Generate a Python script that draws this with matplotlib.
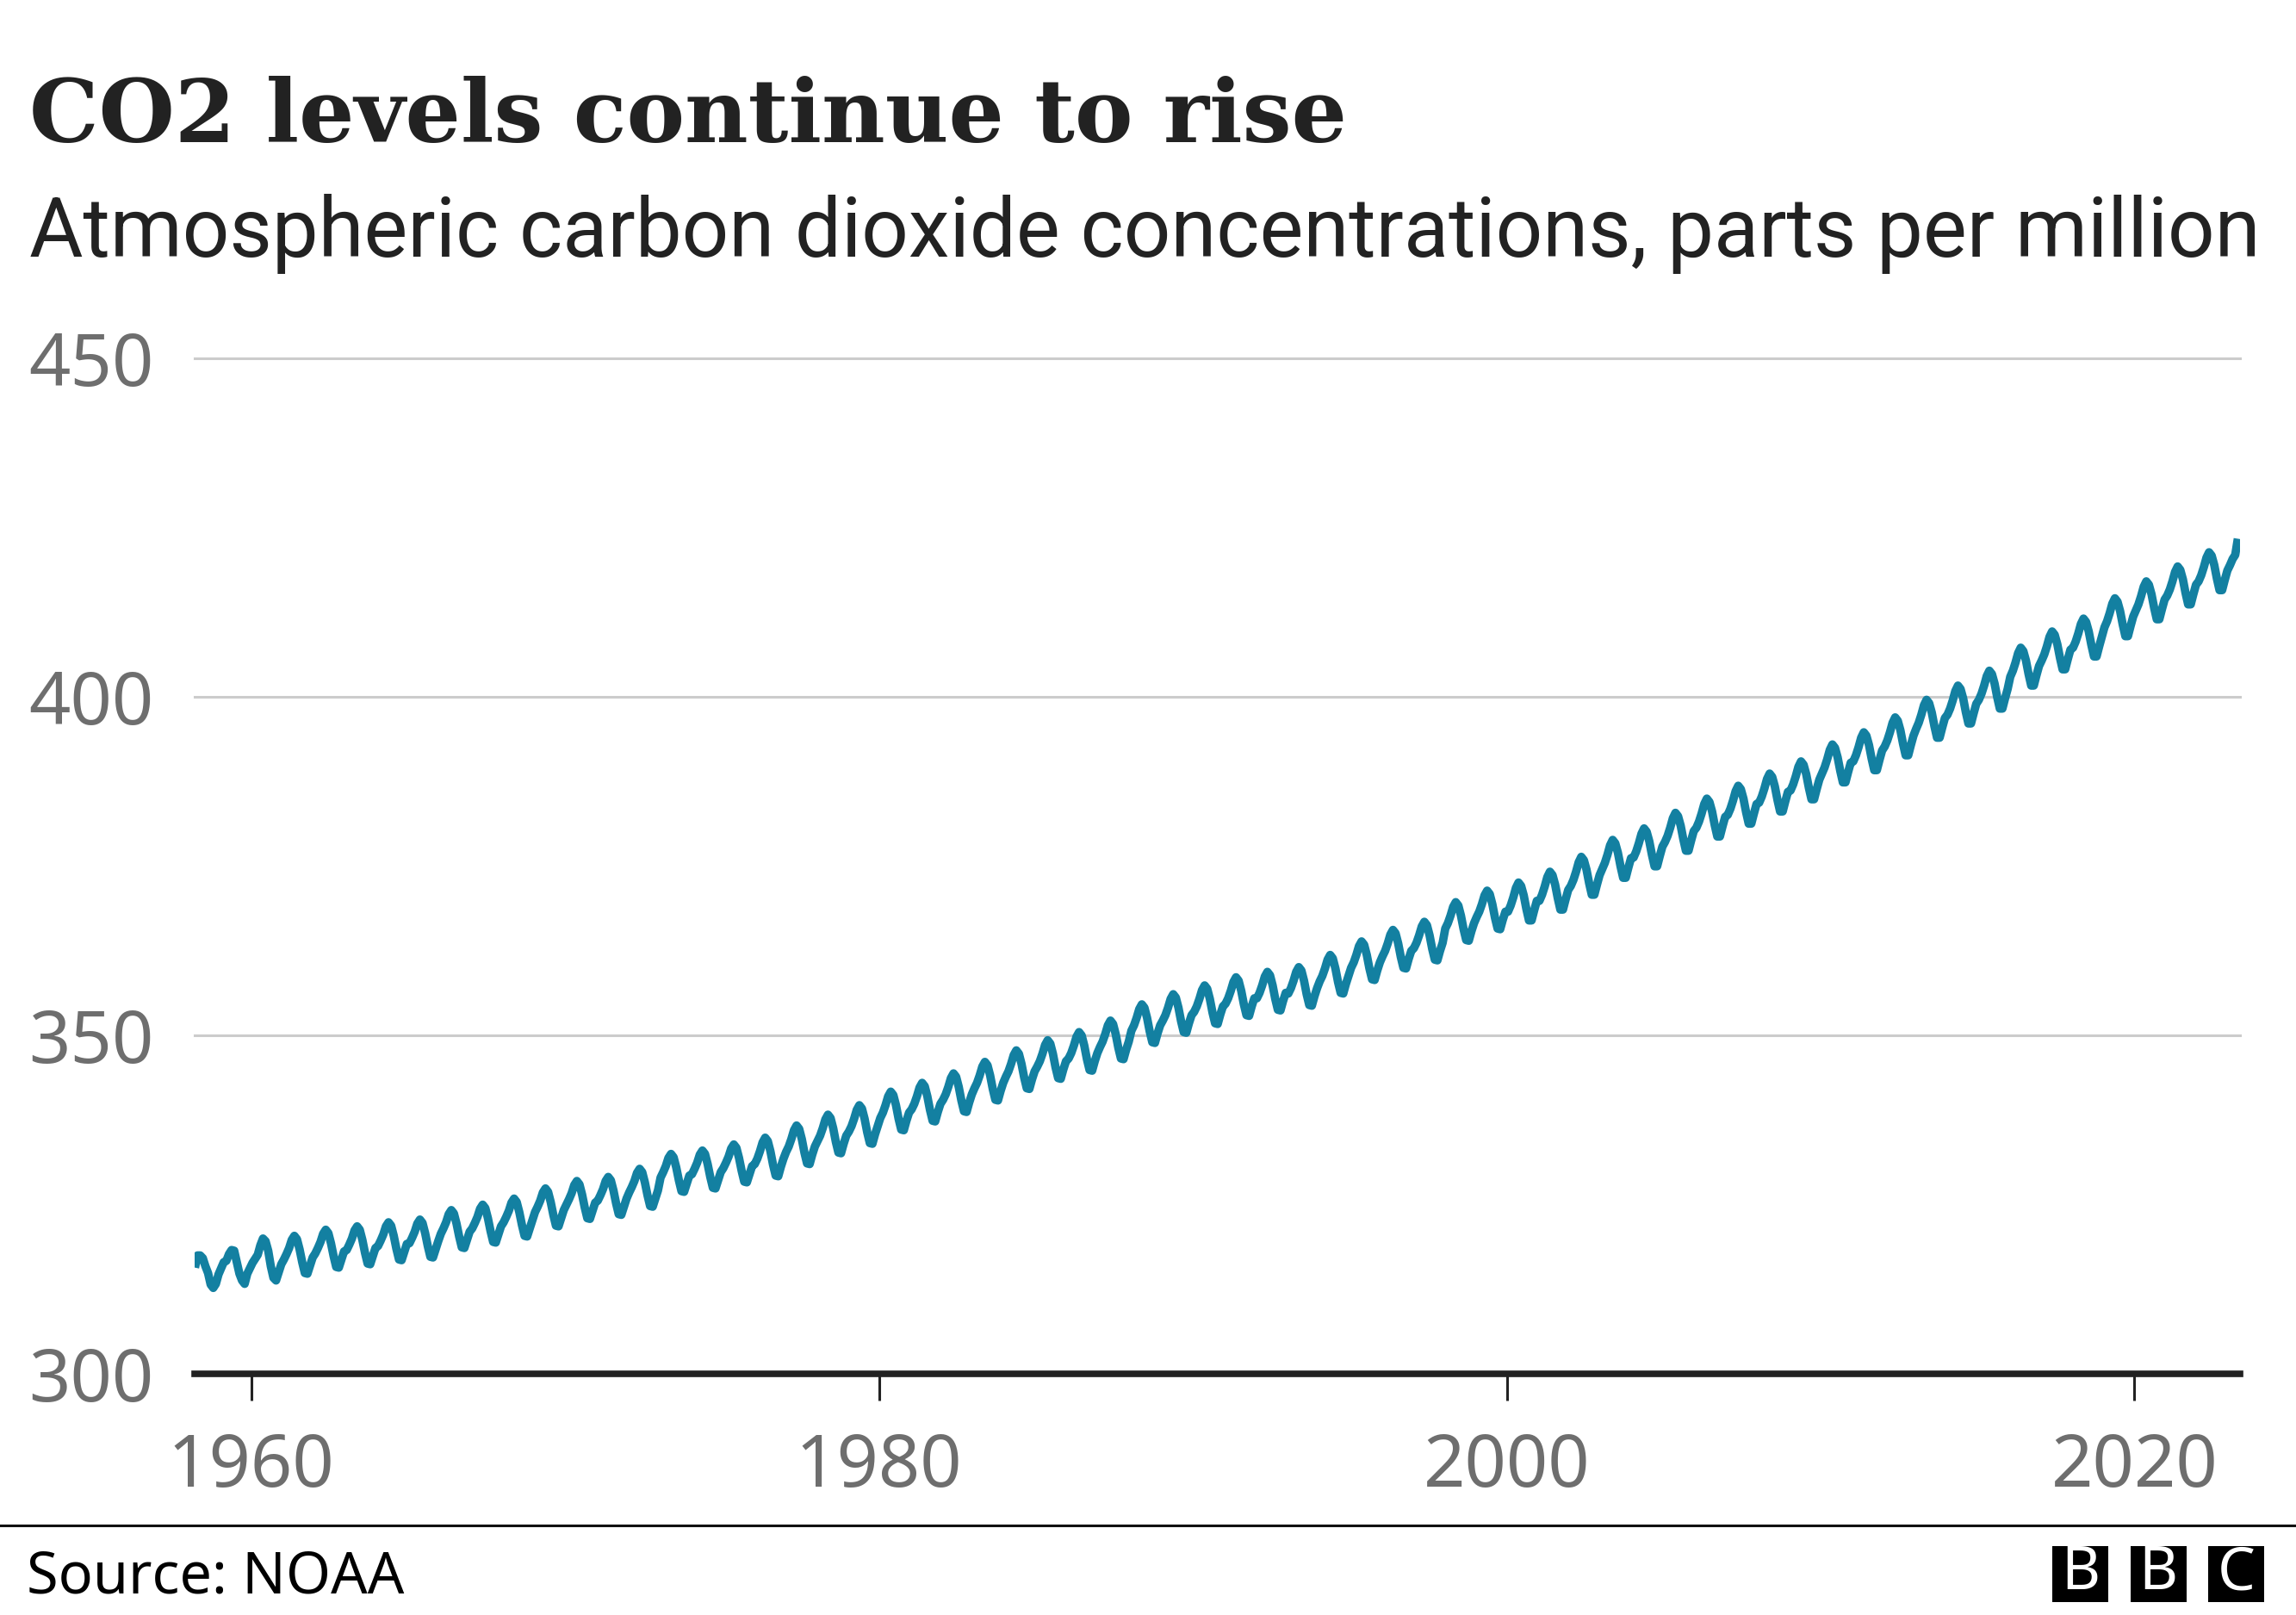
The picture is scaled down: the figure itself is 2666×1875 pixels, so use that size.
import numpy as np
import pandas as pd
import matplotlib
matplotlib.use('Agg')
import matplotlib.pyplot as plt
from matplotlib.lines import Line2D
from matplotlib.patches import Rectangle

# monthly mean CO2 at Mauna Loa, ppm (March 1958 - April 2023)
start_month = '1958-03'
co2_ppm = [
    315.7, 317.5, 317.5, 317.1, 315.9, 314.9, 313.2, 312.7, 313.3, 314.7,  # 1958
    315.6, 316.5, 316.7, 317.7, 318.3, 318.2, 316.5, 314.8, 313.8, 313.3, 314.8, 315.6,
    316.4, 317.0, 317.6, 319.0, 320.0, 319.6, 318.2, 315.9, 314.2, 313.8, 315.0, 316.2,
    316.9, 317.7, 318.6, 319.8, 320.4, 319.9, 318.4, 316.5, 314.9, 314.8, 316.0, 317.2,
    317.8, 318.6, 319.5, 320.7, 321.3, 320.8, 319.3, 317.4, 315.8, 315.7, 316.9, 318.1,
    318.3, 319.1, 320.0, 321.2, 321.8, 321.3, 319.8, 317.9, 316.3, 316.2, 317.4, 318.6,
    318.9, 319.7, 320.6, 321.8, 322.4, 321.9, 320.4, 318.5, 316.9, 316.8, 318.0, 319.2,  # 1964
    319.3, 320.1, 321.0, 322.2, 322.8, 322.3, 320.8, 318.9, 317.3, 317.2, 318.4, 319.6,
    320.7, 321.5, 322.4, 323.6, 324.2, 323.7, 322.2, 320.3, 318.7, 318.6, 319.8, 321.0,
    321.5, 322.3, 323.2, 324.4, 325.0, 324.5, 323.0, 321.1, 319.5, 319.4, 320.6, 321.8,
    322.4, 323.2, 324.1, 325.3, 325.9, 325.4, 323.9, 322.0, 320.4, 320.3, 321.5, 322.7,
    323.9, 324.7, 325.6, 326.8, 327.4, 326.9, 325.4, 323.5, 321.9, 321.8, 323.0, 324.2,
    325.0, 325.8, 326.7, 327.9, 328.5, 328.0, 326.5, 324.6, 323.0, 322.9, 324.1, 325.3,  # 1970
    325.6, 326.4, 327.3, 328.5, 329.1, 328.6, 327.1, 325.2, 323.6, 323.5, 324.7, 325.9,
    326.8, 327.6, 328.5, 329.7, 330.3, 329.8, 328.3, 326.4, 324.8, 324.7, 325.9, 327.1,
    329.0, 329.8, 330.7, 331.9, 332.5, 332.0, 330.5, 328.6, 327.0, 326.9, 328.1, 329.3,
    329.5, 330.3, 331.2, 332.4, 333.0, 332.5, 331.0, 329.1, 327.5, 327.4, 328.6, 329.8,
    330.4, 331.2, 332.1, 333.3, 333.9, 333.4, 331.9, 330.0, 328.4, 328.3, 329.5, 330.7,
    331.0, 331.8, 332.9, 334.2, 334.9, 334.4, 332.9, 330.9, 329.3, 329.2, 330.6, 331.8,  # 1976
    332.8, 333.6, 334.7, 336.0, 336.7, 336.2, 334.7, 332.7, 331.1, 331.0, 332.4, 333.6,
    334.4, 335.2, 336.3, 337.6, 338.3, 337.8, 336.3, 334.3, 332.7, 332.6, 334.0, 335.2,
    335.8, 336.6, 337.7, 339.0, 339.7, 339.2, 337.7, 335.7, 334.1, 334.0, 335.4, 336.6,
    337.8, 338.6, 339.7, 341.0, 341.7, 341.2, 339.7, 337.7, 336.1, 336.0, 337.4, 338.6,  # 1980
    339.1, 339.9, 341.0, 342.3, 343.0, 342.5, 341.0, 339.0, 337.4, 337.3, 338.7, 339.9,
    340.5, 341.3, 342.4, 343.7, 344.4, 343.9, 342.4, 340.4, 338.8, 338.7, 340.1, 341.3,
    342.2, 343.0, 344.1, 345.4, 346.1, 345.6, 344.1, 342.1, 340.5, 340.4, 341.8, 343.0,
    343.9, 344.7, 345.8, 347.1, 347.8, 347.3, 345.8, 343.8, 342.2, 342.1, 343.5, 344.7,
    345.4, 346.2, 347.3, 348.6, 349.3, 348.8, 347.3, 345.3, 343.7, 343.6, 345.0, 346.2,
    346.6, 347.4, 348.5, 349.8, 350.5, 350.0, 348.5, 346.5, 344.9, 344.8, 346.2, 347.4,  # 1986
    348.3, 349.1, 350.2, 351.5, 352.2, 351.7, 350.2, 348.2, 346.6, 346.5, 347.9, 349.1,
    350.7, 351.5, 352.6, 353.9, 354.6, 354.1, 352.6, 350.6, 349.0, 348.9, 350.3, 351.5,
    352.2, 353.0, 354.1, 355.4, 356.1, 355.6, 354.1, 352.1, 350.5, 350.4, 351.8, 353.0,
    353.5, 354.3, 355.4, 356.7, 357.4, 356.9, 355.4, 353.4, 351.8, 351.7, 353.1, 354.3,  # 1990
    354.7, 355.5, 356.6, 357.9, 358.6, 358.1, 356.6, 354.6, 353.0, 352.9, 354.3, 355.5,
    355.5, 356.3, 357.4, 358.7, 359.4, 358.9, 357.4, 355.4, 353.8, 353.7, 355.1, 356.3,
    356.2, 357.0, 358.1, 359.4, 360.1, 359.6, 358.1, 356.1, 354.5, 354.4, 355.8, 357.0,
    358.0, 358.8, 359.9, 361.2, 361.9, 361.4, 359.9, 357.9, 356.3, 356.2, 357.6, 358.8,
    360.0, 360.8, 361.9, 363.2, 363.9, 363.4, 361.9, 359.9, 358.3, 358.2, 359.6, 360.8,
    361.7, 362.5, 363.6, 364.9, 365.6, 365.1, 363.6, 361.6, 360.0, 359.9, 361.3, 362.5,  # 1996
    362.9, 363.7, 364.8, 366.1, 366.8, 366.3, 364.8, 362.8, 361.2, 361.1, 362.5, 363.7,
    365.8, 366.6, 367.7, 369.0, 369.7, 369.2, 367.7, 365.7, 364.1, 364.0, 365.4, 366.6,
    367.5, 368.3, 369.4, 370.7, 371.4, 370.9, 369.4, 367.4, 365.8, 365.7, 367.1, 368.3,
    368.3, 369.2, 370.4, 371.8, 372.6, 372.1, 370.7, 368.7, 367.0, 367.0, 368.5, 369.9,  # 2000
    369.9, 370.8, 372.0, 373.4, 374.2, 373.7, 372.3, 370.3, 368.6, 368.6, 370.1, 371.5,
    372.1, 373.0, 374.2, 375.6, 376.4, 375.9, 374.5, 372.5, 370.8, 370.8, 372.3, 373.7,
    374.6, 375.5, 376.7, 378.1, 378.9, 378.4, 377.0, 375.0, 373.3, 373.3, 374.8, 376.2,
    376.3, 377.2, 378.4, 379.8, 380.6, 380.1, 378.7, 376.7, 375.0, 375.0, 376.5, 377.9,
    378.6, 379.5, 380.7, 382.1, 382.9, 382.4, 381.0, 379.0, 377.3, 377.3, 378.8, 380.2,
    380.7, 381.6, 382.8, 384.2, 385.0, 384.5, 383.1, 381.1, 379.4, 379.4, 380.9, 382.3,  # 2006
    382.6, 383.5, 384.7, 386.1, 386.9, 386.4, 385.0, 383.0, 381.3, 381.3, 382.8, 384.2,
    384.4, 385.3, 386.5, 387.9, 388.7, 388.2, 386.8, 384.8, 383.1, 383.1, 384.6, 386.0,
    386.2, 387.1, 388.3, 389.7, 390.5, 390.0, 388.6, 386.6, 384.9, 384.9, 386.4, 387.8,
    388.7, 389.6, 390.8, 392.2, 393.0, 392.5, 391.1, 389.1, 387.4, 387.4, 388.9, 390.3,  # 2010
    390.5, 391.4, 392.6, 394.0, 394.8, 394.3, 392.9, 390.9, 389.2, 389.2, 390.7, 392.1,
    392.7, 393.6, 394.8, 396.2, 397.0, 396.5, 395.1, 393.1, 391.4, 391.4, 392.9, 394.3,
    395.3, 396.2, 397.4, 398.8, 399.6, 399.1, 397.7, 395.7, 394.0, 394.0, 395.5, 396.9,
    397.4, 398.3, 399.5, 400.9, 401.7, 401.2, 399.8, 397.8, 396.1, 396.1, 397.6, 399.0,
    399.6, 400.5, 401.7, 403.1, 403.9, 403.4, 402.0, 400.0, 398.3, 398.3, 399.8, 401.2,
    403.0, 403.9, 405.1, 406.5, 407.3, 406.8, 405.4, 403.4, 401.7, 401.7, 403.2, 404.6,  # 2016
    405.4, 406.3, 407.5, 408.9, 409.7, 409.2, 407.8, 405.8, 404.1, 404.1, 405.6, 407.0,
    407.3, 408.2, 409.4, 410.8, 411.6, 411.1, 409.7, 407.7, 406.0, 406.0, 407.5, 408.9,
    410.3, 411.2, 412.4, 413.8, 414.6, 414.1, 412.7, 410.7, 409.0, 409.0, 410.5, 411.9,
    412.8, 413.7, 414.9, 416.3, 417.1, 416.6, 415.2, 413.2, 411.5, 411.5, 413.0, 414.4,  # 2020
    415.0, 415.9, 417.1, 418.5, 419.3, 418.8, 417.4, 415.4, 413.7, 413.7, 415.2, 416.6,
    417.1, 418.0, 419.2, 420.6, 421.4, 420.9, 419.5, 417.5, 415.8, 415.8, 417.3, 418.7,
    419.5, 420.4, 421.0, 423.4,  # 2023
]

y_ticks = [300, 350, 400, 450]
x_ticks = [1960, 1980, 2000, 2020]

title = 'CO2 levels continue to rise'
subtitle = 'Atmospheric carbon dioxide concentrations, parts per million'
source = 'Source: NOAA'

# month index -> decimal year (middle of the month)
months = pd.period_range(start_month, periods=len(co2_ppm), freq='M')
dec_year = months.year + (months.month - 0.5) / 12.0

line_col = '#1380A1'
grey_txt = '#6e6e6e'
sans = ['Noto Sans', 'DejaVu Sans']

fig = plt.figure(figsize=(26.66, 18.75), dpi=100)
ax = fig.add_axes([0.0848, 0.1493, 0.8908, 0.6286])

for v in y_ticks[1:]:
    ax.axhline(v, color='#cccccc', lw=2.2, zorder=1, clip_on=False)
ax.axhline(y_ticks[0], color='#222222', lw=5.5, zorder=3, clip_on=False)

ax.plot(dec_year, co2_ppm, color=line_col, lw=7, solid_joinstyle='round',
        solid_capstyle='butt', zorder=2)

ax.set_xlim(1958.2, 2023.36)
ax.set_ylim(300, 450)
ax.set_xticks(x_ticks)
ax.set_yticks(y_ticks)
for s in ax.spines.values():
    s.set_visible(False)
ax.tick_params(axis='x', length=22, width=2.2, color='#222222', pad=26,
               labelsize=61, labelcolor=grey_txt)
ax.tick_params(axis='y', length=0, pad=34, labelsize=61, labelcolor=grey_txt)
for lab in ax.get_xticklabels() + ax.get_yticklabels():
    lab.set_family(sans)

# titles
fig.text(0.0128, 0.912, title, family='DejaVu Serif',
         fontweight='bold', fontsize=73, color='#222222', va='baseline')
fig.text(0.0128, 0.841, subtitle, family=['Roboto', 'DejaVu Sans'], fontsize=69,
         color='#222222', va='baseline')

# footer
fig.add_artist(Line2D([0, 1], [0.0553, 0.0553], color='#111111', lw=2.2))
fig.text(0.0115, 0.0134, source, family=sans, fontsize=48, color='black', va='baseline')

bw, bh = 0.0244, 0.0347
for i, letter in enumerate('BBC'):
    x0 = 0.8939 + i * 0.0339
    fig.add_artist(Rectangle((x0, 0.008), bw, bh, transform=fig.transFigure,
                             facecolor='black', edgecolor='none'))
    fig.text(x0 + bw / 2, 0.008 + bh / 2, letter, family=sans, fontweight='bold',
             fontsize=50, color='white', ha='center', va='center')

fig.savefig('out.png', dpi=100, facecolor='white')
